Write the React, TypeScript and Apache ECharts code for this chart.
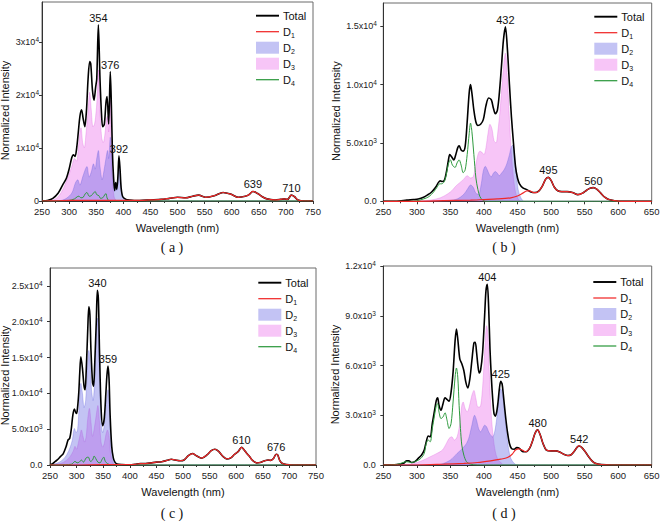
import React, { useEffect, useRef } from "react";
import * as echarts from "echarts";

// ---------------- data (wavelength nm, intensity) ----------------
// Panel (a)
const aTotal = [[250,0],[260,100],[270,500],[280,1500],[288,3000],[295,4300],[300,6000],[305,8200],[308,8700],[311,8400],[314,10000],[317,13000],[320,16000],[323,17200],[326,15500],[329,14000],[332,17000],[335,23000],[338,26300],[340,25800],[343,21000],[346,19000],[349,21500],[351,23000],[354,33200],[357,23000],[360,16000],[362,14000],[365,14500],[368,18500],[370,19700],[373,14500],[376,24400],[378,18000],[380,9000],[382,4500],[384,2000],[386,3500],[388,2200],[390,4500],[392,8500],[394,6000],[396,2500],[399,800],[405,300],[410,200],[420,100],[430,100],[450,200],[470,300],[485,500],[500,700],[515,600],[528,900],[539,1100],[552,700],[568,1000],[584,1600],[598,1300],[612,700],[625,900],[632,1200],[639,1800],[648,1400],[655,900],[665,400],[680,200],[690,300],[697,400],[703,300],[710,1100],[716,800],[722,200],[735,0],[750,0]];
const aD1 = [[250,0],[280,50],[300,100],[350,100],[400,100],[430,100],[450,200],[470,300],[485,500],[500,700],[515,600],[528,900],[539,1100],[552,700],[568,1000],[584,1600],[598,1300],[612,700],[625,900],[632,1200],[639,1800],[648,1400],[655,900],[665,400],[680,200],[690,300],[697,400],[703,300],[710,1100],[716,800],[722,200],[735,0],[750,0]];
const aD2 = [[250,0],[285,100],[295,500],[305,1500],[312,3500],[316,4000],[320,3000],[325,4500],[330,6000],[333,6500],[337,4500],[341,5500],[345,7000],[348,6000],[351,8000],[354,9500],[357,6500],[361,4000],[364,5500],[368,8000],[371,9500],[373,8000],[376,12000],[378,9000],[380,4500],[382,2500],[384,1800],[386,2800],[388,2000],[390,3500],[392,8000],[394,5500],[397,1500],[402,300],[410,0],[750,0]];
const aD3 = [[250,0],[270,200],[280,800],[290,2500],[298,4500],[305,6500],[310,8000],[314,7500],[317,10000],[320,13000],[322,13800],[325,11000],[328,10000],[331,12500],[335,17000],[338,20500],[341,17000],[344,14000],[347,14500],[350,17000],[352,20000],[354,24700],[357,17000],[360,12000],[363,11000],[366,12500],[369,15500],[371,16000],[373,13000],[376,19000],[378,12000],[380,4000],[383,800],[386,200],[390,0],[750,0]];
const aD4 = [[250,0],[300,100],[310,400],[315,800],[318,900],[322,600],[326,700],[330,1400],[333,1600],[337,900],[341,1000],[345,1500],[348,1800],[351,1200],[355,1000],[358,500],[362,600],[366,1200],[368,1400],[370,600],[373,100],[380,0],[750,0]];
const aPeakLabels = ["354", "376", "392", "639", "710"];
const aPeakAt = [[354,33200],[376,24400],[392,8500],[639,1800],[710,1100]];
const aYTicks = [0, 10000, 20000, 30000];
const aYLabels = ["0", "1x10^4", "2x10^4", "3x10^4"];

// Panel (b)
const bTotal = [[250,0],[270,0],[285,100],[295,150],[302,200],[310,350],[316,550],[322,800],[328,1200],[332,1600],[335,1750],[338,1700],[341,1800],[344,2500],[347,3500],[349,4000],[352,3800],[355,3550],[358,4000],[361,4600],[363,4750],[366,4400],[369,4300],[372,4700],[375,6800],[378,9300],[380,10000],[382,9300],[385,7800],[388,6800],[391,6500],[395,6600],[399,7000],[403,8200],[407,8850],[411,8700],[414,8000],[417,7500],[420,7800],[423,9300],[426,11500],[429,13800],[432,14950],[435,13000],[438,10000],[441,7200],[444,5000],[447,3000],[450,2000],[453,1500],[458,1150],[464,1000],[470,800],[476,750],[482,900],[487,1300],[492,1900],[496,2050],[500,1800],[505,1200],[510,900],[516,830],[524,830],[532,750],[540,570],[547,700],[553,950],[558,1120],[563,1170],[568,1050],[574,700],[580,350],[586,150],[595,50],[605,0],[650,0]];
const bD1 = [[250,0],[300,0],[340,50],[380,100],[400,150],[420,200],[440,300],[450,450],[458,700],[464,900],[468,900],[474,750],[478,750],[482,900],[487,1300],[492,1900],[496,2050],[500,1800],[505,1200],[510,900],[516,830],[524,830],[532,750],[540,570],[547,700],[553,950],[558,1120],[563,1170],[568,1050],[574,700],[580,350],[586,150],[595,50],[605,0],[650,0]];
const bD2 = [[250,0],[330,0],[345,50],[360,200],[370,600],[376,1100],[380,1400],[384,1200],[388,700],[392,600],[396,1500],[399,2600],[402,3000],[405,2700],[408,2300],[411,2100],[414,2400],[417,2550],[420,2400],[423,2200],[426,2400],[430,2700],[434,3200],[438,4000],[441,4700],[443,4800],[445,4300],[448,2500],[451,1000],[455,300],[460,0],[650,0]];
const bD3 = [[250,0],[300,0],[320,100],[335,300],[345,600],[352,900],[358,1300],[364,1600],[370,1900],[375,2200],[380,2000],[384,2100],[388,3200],[391,4000],[394,4300],[397,4200],[400,4000],[403,4600],[406,5800],[409,6600],[412,6200],[415,5200],[418,5000],[421,6100],[424,7800],[427,10000],[430,12000],[432,12700],[435,10500],[438,7000],[441,4000],[444,2000],[447,800],[450,300],[455,0],[650,0]];
const bD4 = [[250,0],[290,0],[300,50],[310,200],[318,400],[325,800],[330,1200],[334,1500],[337,1500],[341,1700],[344,2300],[347,3200],[350,3550],[353,3100],[357,2900],[360,3300],[363,3550],[366,3100],[369,2450],[372,2700],[375,4000],[378,5800],[380,6700],[382,6000],[385,4000],[388,2000],[391,1000],[394,400],[398,100],[402,0],[650,0]];
const bPeakLabels = ["432", "495", "560"];
const bPeakAt = [[432,14950],[496,2050],[563,1170]];
const bYTicks = [0, 5000, 10000, 15000];
const bYLabels = ["0.0", "5.0x10^3", "1.0x10^4", "1.5x10^4"];

// Panel (c)
const cTotal = [[250,0],[255,200],[260,500],[265,800],[270,1200],[275,1600],[280,2500],[284,3500],[287,3700],[290,5000],[293,7000],[296,7800],[299,7200],[301,7500],[304,10000],[306,13000],[308,15100],[311,13500],[314,11000],[316,10500],[318,13000],[321,19000],[323,22100],[325,21000],[327,16000],[330,11500],[332,11000],[334,14000],[337,20000],[339,24400],[341,23000],[343,16000],[346,8000],[349,5500],[352,6500],[355,10000],[357,12500],[359,13800],[361,12000],[363,7000],[366,2600],[369,1000],[372,400],[376,150],[385,50],[400,0],[410,100],[420,200],[430,200],[440,300],[450,400],[460,450],[470,650],[478,800],[485,700],[495,600],[502,700],[510,1300],[518,1600],[525,1300],[535,950],[545,1400],[553,2000],[560,2200],[567,1900],[575,1200],[582,850],[590,1000],[597,1500],[604,1900],[610,2470],[615,2100],[620,1600],[625,1200],[630,700],[638,300],[645,350],[652,550],[660,700],[665,650],[670,900],[675,1500],[678,1400],[682,600],[687,200],[695,50],[705,0],[750,0]];
const cD1 = [[250,0],[300,0],[350,50],[400,50],[410,100],[420,200],[430,200],[440,300],[450,400],[460,450],[470,650],[478,800],[485,700],[495,600],[502,700],[510,1300],[518,1600],[525,1300],[535,950],[545,1400],[553,2000],[560,2200],[567,1900],[575,1200],[582,850],[590,1000],[597,1500],[604,1900],[610,2470],[615,2100],[620,1600],[625,1200],[630,700],[638,300],[645,350],[652,550],[660,700],[665,650],[670,900],[675,1500],[678,1400],[682,600],[687,200],[695,50],[705,0],[750,0]];
const cD2 = [[250,0],[265,300],[275,800],[282,1500],[288,2500],[292,3500],[296,5100],[299,4500],[302,5000],[305,8500],[308,11400],[311,10000],[314,8000],[317,9000],[320,13000],[323,16000],[325,15000],[328,10500],[331,9000],[334,12000],[337,18000],[339,20500],[341,19000],[343,13000],[346,6500],[349,4500],[352,5500],[355,8000],[357,9500],[359,10500],[361,9000],[363,5000],[366,1500],[370,300],[375,0],[750,0]];
const cD3 = [[250,0],[270,200],[280,600],[288,1200],[294,2000],[297,2600],[300,2200],[303,3000],[306,4000],[309,4900],[312,4000],[315,3200],[318,4000],[321,6500],[324,7900],[327,6000],[330,4000],[333,5000],[337,7000],[340,8300],[343,6000],[346,3200],[349,2500],[352,3000],[355,4200],[358,4900],[361,4000],[364,1500],[368,300],[372,0],[750,0]];
const cD4 = [[250,0],[290,100],[297,500],[301,300],[305,400],[309,700],[313,400],[318,1000],[322,1100],[326,500],[330,700],[333,1250],[336,900],[340,400],[344,300],[348,800],[351,1100],[354,500],[358,200],[365,0],[750,0]];
const cPeakLabels = ["340", "359", "610", "676"];
const cPeakAt = [[339,24400],[359,13800],[610,2470],[675,1500]];
const cYTicks = [0, 5000, 10000, 15000, 20000, 25000];
const cYLabels = ["0.0", "5.0x10^3", "1.0x10^4", "1.5x10^4", "2.0x10^4", "2.5x10^4"];

// Panel (d)
const dTotal = [[250,0],[270,30],[280,100],[285,250],[288,250],[292,150],[297,200],[302,400],[307,600],[311,900],[314,1400],[317,1750],[320,1700],[323,2500],[326,3200],[329,3900],[331,4050],[333,3600],[336,3300],[339,3700],[342,4050],[345,3950],[348,3850],[351,4400],[354,5600],[357,7500],[359,8200],[361,7600],[364,6400],[367,6100],[370,5700],[373,5000],[376,4650],[379,5200],[382,6300],[385,7350],[387,7400],[389,6800],[391,6000],[393,5550],[395,5700],[398,6800],[401,9000],[403,10500],[405,10900],[407,9500],[409,7000],[411,5300],[413,4000],[415,3100],[417,2950],[419,3200],[421,3800],[423,4600],[425,5040],[427,4900],[429,4200],[432,3000],[435,2000],[438,1300],[441,1000],[445,950],[449,1050],[453,1000],[458,800],[463,800],[468,1000],[472,1400],[476,1900],[480,2120],[484,1800],[488,1300],[493,900],[500,850],[507,850],[513,780],[519,650],[525,570],[530,620],[535,850],[539,1080],[542,1150],[546,1050],[551,800],[556,500],[561,250],[566,100],[575,30],[590,0],[650,0]];
const dD1 = [[250,0],[300,0],[340,50],[370,100],[390,150],[410,250],[425,350],[435,450],[442,650],[447,900],[452,970],[457,900],[462,800],[467,950],[472,1400],[476,1900],[480,2120],[484,1800],[488,1300],[493,900],[500,850],[507,850],[513,780],[519,650],[525,570],[530,620],[535,850],[539,1080],[542,1150],[546,1050],[551,800],[556,500],[561,250],[566,100],[575,30],[590,0],[650,0]];
const dD2 = [[250,0],[330,0],[340,100],[350,300],[360,700],[368,1000],[374,1300],[378,1700],[382,2400],[386,3000],[389,2700],[392,2200],[395,2000],[398,2200],[401,2400],[404,2300],[407,2000],[410,1800],[413,1700],[416,2000],[419,2800],[422,3900],[425,4600],[428,4200],[431,3000],[434,1800],[437,900],[440,400],[445,100],[450,0],[650,0]];
const dD3 = [[250,0],[290,50],[300,150],[310,300],[320,500],[330,700],[338,900],[344,1300],[348,1600],[352,1700],[356,1500],[360,1700],[364,2500],[367,3600],[369,3800],[372,3400],[375,3200],[378,3500],[382,4200],[385,4500],[388,4000],[391,3500],[394,3500],[397,4200],[400,6000],[402,7500],[404,8400],[406,7800],[408,5500],[411,3000],[414,1600],[417,800],[420,400],[425,150],[430,0],[650,0]];
const dD4 = [[250,0],[270,30],[285,200],[292,150],[300,250],[306,400],[311,700],[314,1300],[317,1500],[320,1400],[323,2200],[326,2900],[329,3600],[331,3700],[333,3200],[336,2800],[339,2900],[342,3150],[345,2700],[348,2200],[351,2500],[354,3800],[357,5300],[359,5850],[361,5300],[363,3600],[365,2200],[367,1200],[370,600],[374,200],[380,50],[390,0],[650,0]];
const dPeakLabels = ["404", "425", "480", "542"];
const dPeakAt = [[405,10900],[425,5040],[480,2120],[542,1150]];
const dYTicks = [0, 3000, 6000, 9000, 12000];
const dYLabels = ["0.0", "3.0x10^3", "6.0x10^3", "9.0x10^3", "1.2x10^4"];

const xTicksWide = [250, 300, 350, 400, 450, 500, 550, 600, 650, 700, 750];
const xTicksNarrow = [250, 300, 350, 400, 450, 500, 550, 600, 650];
const captions = ["( a )", "( b )", "( c )", "( d )"];
const seriesNames = ["Total", "D1", "D2", "D3", "D4"];

// ---------------- styling ----------------
const SANS = '"Liberation Sans", Arial, Helvetica, sans-serif';
const SERIF = '"Liberation Serif", "Times New Roman", serif';
const C_TOTAL = "#000000";
const C_D1 = "#f02828";
const C_D4 = "#2e9a3e";
const F_D2 = "rgba(90,90,225,0.36)";
const F_D3 = "rgba(235,110,235,0.40)";

const panels = [
  { grid: { left: 42, top: 2, width: 271, height: 199 }, xMax: 750, xTicks: xTicksWide, yMax: 37500, yTicks: aYTicks, yLabels: aYLabels, yLabelMargin: 3, yNameGap: 32, legend: { left: 256, top: 8.7 }, cap: [172, 247], total: aTotal, d1: aD1, d2: aD2, d3: aD3, d4: aD4, peakLabels: aPeakLabels, peakAt: aPeakAt },
  { grid: { left: 383.3, top: 3, width: 268.4, height: 198.3 }, xMax: 650, xTicks: xTicksNarrow, yMax: 17000, yTicks: bYTicks, yLabels: bYLabels, yLabelMargin: 6.5, yNameGap: 41.5, legend: { left: 594.3, top: 9.7 }, cap: [504, 247], total: bTotal, d1: bD1, d2: bD2, d3: bD3, d4: bD4, peakLabels: bPeakLabels, peakAt: bPeakAt },
  { grid: { left: 50, top: 268, width: 266, height: 197 }, xMax: 750, xTicks: xTicksWide, yMax: 27500, yTicks: cYTicks, yLabels: cYLabels, yLabelMargin: 7.5, yNameGap: 40, legend: { left: 258.3, top: 275.7 }, cap: [172, 513], total: cTotal, d1: cD1, d2: cD2, d3: cD3, d4: cD4, peakLabels: cPeakLabels, peakAt: cPeakAt },
  { grid: { left: 383.3, top: 266, width: 268.4, height: 199 }, xMax: 650, xTicks: xTicksNarrow, yMax: 12000, yTicks: dYTicks, yLabels: dYLabels, yLabelMargin: 7.5, yNameGap: 43, legend: { left: 593.3, top: 275 }, cap: [504, 513], total: dTotal, d1: dD1, d2: dD2, d3: dD3, d4: dD4, peakLabels: dPeakLabels, peakAt: dPeakAt },
];

function buildOption() {
  const grid: any[] = [];
  const xAxis: any[] = [];
  const yAxis: any[] = [];
  const series: any[] = [];
  const legend: any[] = [];
  const graphic: any[] = [];

  panels.forEach((p, i) => {
    grid.push({ ...p.grid, show: true, borderColor: "#6a6a6a", borderWidth: 1, backgroundColor: "transparent", outerBoundsMode: "none", containLabel: false });
    xAxis.push({
      type: "value", gridIndex: i, min: 250, max: p.xMax, interval: 50,
      name: "Wavelength (nm)", nameLocation: "middle", nameGap: 21, nameMoveOverlap: false,
      nameTextStyle: { fontFamily: SANS, fontSize: 11, color: "#111" },
      axisLine: { show: true, onZero: false, lineStyle: { color: "#333", width: 1 } },
      axisTick: { show: true, inside: false, length: 3, lineStyle: { color: "#333" } },
      minorTick: { show: true, splitNumber: 2, length: 2, lineStyle: { color: "#333" } },
      axisLabel: { show: true, margin: 5, fontFamily: SANS, fontSize: 9.5, color: "#222", customValues: p.xTicks },
      splitLine: { show: false }, minorSplitLine: { show: false },
    });
    const ticks = p.yTicks, labels = p.yLabels;
    yAxis.push({
      type: "value", gridIndex: i, min: 0, max: p.yMax,
      name: "Normalized Intensity", nameLocation: "middle", nameGap: p.yNameGap, nameRotate: 90, nameMoveOverlap: false,
      nameTextStyle: { fontFamily: SANS, fontSize: 11, color: "#111", padding: [0, 18, 0, 0] },
      axisLine: { show: true, onZero: false, lineStyle: { color: "#333", width: 1 } },
      axisTick: { show: true, inside: false, length: 3, lineStyle: { color: "#333" }, customValues: ticks },
      axisLabel: {
        show: true, margin: p.yLabelMargin, fontFamily: SANS, fontSize: 9, color: "#222", lineHeight: 12,
        customValues: ticks,
        formatter: (v: number) => {
          const k = ticks.indexOf(v);
          if (k < 0) return "";
          return labels[k].replace(/\^(\d)/, "{s|$1}");
        },
        rich: { s: { fontFamily: SANS, fontSize: 6.5, color: "#222", verticalAlign: "top", lineHeight: 7 } },
      },
      splitLine: { show: false },
    });

    const base = { type: "line", xAxisIndex: i, yAxisIndex: i, symbol: "none", showSymbol: false, smooth: 0.3, animation: false, silent: true };
    series.push({ ...base, name: "D3", data: p.d3, itemStyle: { color: F_D3 }, lineStyle: { width: 0.6, color: "rgba(225,100,225,0.55)" }, areaStyle: { color: F_D3, opacity: 1 }, z: 2 });
    series.push({ ...base, name: "D2", data: p.d2, itemStyle: { color: F_D2 }, lineStyle: { width: 0.6, color: "rgba(90,90,220,0.5)" }, areaStyle: { color: F_D2, opacity: 1 }, z: 3 });
    series.push({
      ...base, name: "Total", data: p.total, itemStyle: { color: C_TOTAL }, lineStyle: { width: 1.6, color: C_TOTAL }, z: 4,
      markPoint: {
        symbol: "circle", symbolSize: 1, silent: true, itemStyle: { color: "rgba(0,0,0,0)" },
        label: { show: true, position: "top", distance: 1, formatter: "{b}", fontFamily: SANS, fontSize: 11, color: "#111" },
        data: p.peakAt.map((pt, k) => ({ name: p.peakLabels[k], coord: pt })),
      },
    });
    series.push({ ...base, name: "D4", data: p.d4, itemStyle: { color: C_D4 }, lineStyle: { width: 1, color: C_D4 }, z: 5 });
    series.push({ ...base, name: "D1", data: p.d1, itemStyle: { color: C_D1 }, lineStyle: { width: 1.2, color: C_D1 }, z: 6 });

    legend.push({
      orient: "vertical", left: p.legend.left, top: p.legend.top, padding: 0,
      itemWidth: 23, itemHeight: 12, itemGap: 2, selectedMode: false, symbolKeepAspect: true,
      textStyle: {
        fontFamily: SANS, fontSize: 11, color: "#111", lineHeight: 14, padding: [0, 0, 0, -1],
        rich: { sub: { fontFamily: SANS, fontSize: 7, color: "#111", verticalAlign: "bottom", lineHeight: 9 } },
      },
      formatter: (name: string) => (name === "Total" ? "Total" : "D{sub|" + name.slice(1) + "}"),
      data: [
        { name: seriesNames[0], icon: "path://M0,0H24V2H0Z", itemStyle: { color: C_TOTAL, borderWidth: 0 } },
        { name: seriesNames[1], icon: "path://M0,0H24V1.3H0Z", itemStyle: { color: C_D1, borderWidth: 0 } },
        { name: seriesNames[2], icon: "rect", itemStyle: { color: F_D2, borderWidth: 0 } },
        { name: seriesNames[3], icon: "rect", itemStyle: { color: F_D3, borderWidth: 0 } },
        { name: seriesNames[4], icon: "path://M0,0H24V1.3H0Z", itemStyle: { color: C_D4, borderWidth: 0 } },
      ],
    });

    graphic.push({
      type: "text", x: p.cap[0], y: p.cap[1], silent: true,
      style: { text: captions[i], font: "14px " + SERIF, fill: "#111", align: "center", verticalAlign: "middle", textAlign: "center", textVerticalAlign: "middle" },
    });
  });

  return { animation: false, backgroundColor: "#ffffff", grid, xAxis, yAxis, series, legend, graphic, tooltip: { show: false } };
}

export default function App() {
  const ref = useRef<HTMLDivElement>(null);
  useEffect(() => {
    document.body.style.margin = "0";
    if (!ref.current) return;
    const chart = echarts.init(ref.current, null, { renderer: "svg" });
    chart.setOption(buildOption() as any);
    return () => chart.dispose();
  }, []);
  return <div ref={ref} style={{ position: "relative", width: 661, height: 522, background: "#fff" }} />;
}
